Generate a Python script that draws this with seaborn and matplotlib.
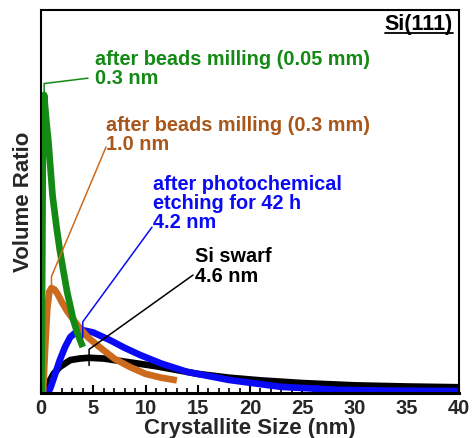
import matplotlib
matplotlib.use("Agg")
import matplotlib.pyplot as plt
import seaborn as sns
import pandas as pd

sns.set_theme(style="white")
plt.rcParams['font.family'] = ['Liberation Sans', 'DejaVu Sans']
plt.rcParams['font.weight'] = 'bold'

# ---- data ----
green_x = [0.05, 0.2, 0.3, 0.5, 0.7, 1.1, 1.5, 1.8, 2.2, 2.5, 3.1, 3.5, 4.0]
green_y = [0.0, 0.74, 0.778, 0.713, 0.66, 0.517, 0.43, 0.373, 0.31, 0.264, 0.19, 0.155, 0.12]

orange_x = [0.2, 0.4, 0.6, 0.8, 1.0, 1.3, 1.6, 2.0, 2.5, 3.0, 3.7, 4.5, 5.6, 7.0, 8.5, 10.0, 11.5, 13.0]
orange_y = [0.0, 0.12, 0.22, 0.265, 0.274, 0.27, 0.258, 0.237, 0.214, 0.195, 0.17, 0.145, 0.12, 0.09, 0.068, 0.05, 0.04, 0.033]

blue_x = [0.5, 0.86, 1.3, 1.8, 2.3, 2.8, 3.4, 4.0, 5.0, 6.6, 8.0, 9.5, 11.5, 14.0, 18.0, 23.0, 28.6, 34.0, 40.0]
blue_y = [0.0, 0.01, 0.045, 0.086, 0.12, 0.146, 0.16, 0.164, 0.158, 0.138, 0.118, 0.099, 0.077, 0.055, 0.034, 0.016, 0.008, 0.006, 0.005]

black_x = [0.4, 0.8, 1.2, 1.8, 2.8, 3.7, 4.6, 6.0, 7.5, 9.0, 11.0, 13.0, 15.0, 18.0, 21.0, 25.0, 30.0, 35.0, 40.0]
black_y = [0.0, 0.03, 0.05, 0.068, 0.086, 0.09, 0.092, 0.09, 0.084, 0.078, 0.07, 0.06, 0.05, 0.04, 0.033, 0.026, 0.02, 0.017, 0.015]

x_ticks = [0, 5, 10, 15, 20, 25, 30, 35, 40]

labels = {
    'green': ["after beads milling (0.05 mm)", "0.3 nm"],
    'orange': ["after beads milling (0.3 mm)", "1.0 nm"],
    'blue': ["after photochemical", "etching for 42 h", "4.2 nm"],
    'black': ["Si swarf", "4.6 nm"],
}

line_col = {'green': '#138a13', 'orange': '#cc6a1e', 'blue': '#0a0af5', 'black': '#000000'}
text_col = {'green': '#138a13', 'orange': '#a8561a', 'blue': '#0a0af5', 'black': '#000000'}

fig = plt.figure(figsize=(4.75, 4.38), dpi=100)
ax = fig.add_axes([41/475, 45/438, 418/475, 383/438])

series = {
    'black': (black_x, black_y),
    'blue': (blue_x, blue_y),
    'orange': (orange_x, orange_y),
    'green': (green_x, green_y),
}
for name, (xs, ys) in series.items():
    df = pd.DataFrame({'x': xs, 'y': ys})
    sns.lineplot(data=df, x='x', y='y', ax=ax, color=line_col[name], lw=4.8,
                 sort=True, estimator=None, solid_capstyle='butt')

ax.set_xlim(0, 40)
ax.set_ylim(0, 1.0)
ax.set_yticks([])
ax.set_xticks(x_ticks)
ax.set_xticklabels([str(t) for t in x_ticks], fontsize=14.5, fontweight='bold')
ax.set_xticks(range(0, 41), minor=True)
ax.tick_params(axis='x', which='major', direction='in', length=6, width=1.5, color='black', pad=4, bottom=True)
ax.tick_params(axis='x', which='minor', direction='in', length=3.5, width=1.2, color='black', bottom=True)
for s in ax.spines.values():
    s.set_color('black')
    s.set_linewidth(1.5)
ax.spines['bottom'].set_linewidth(2.2)

ax.set_xlabel("Crystallite Size (nm)", fontsize=16, fontweight='bold', labelpad=0)
ax.set_ylabel("Volume Ratio", fontsize=16, fontweight='bold', labelpad=5)

# ---- annotations ----
fs = 14.3
text_pos = {
    'green': (5.17, [0.856, 0.806]),
    'orange': (6.22, [0.684, 0.634]),
    'blue': (10.72, [0.530, 0.481, 0.431]),
    'black': (14.74, [0.342, 0.290]),
}
for name, (tx, tys) in text_pos.items():
    for line, ty in zip(labels[name], tys):
        ax.text(tx, ty, line, color=text_col[name], fontsize=fs, fontweight='bold',
                ha='left', va='baseline')

leader_start = {
    'green': (4.5, 0.822),
    'orange': (6.22, 0.642),
    'blue': (10.62, 0.433),
    'black': (14.55, 0.308),
}
for name, (xs, ys) in series.items():
    i = max(range(len(ys)), key=lambda k: ys[k])
    px, py = xs[i], ys[i]
    sx, sy = leader_start[name]
    if name in ('green', 'orange'):
        lx = [sx, px, px]
        ly = [sy, py + 0.03, py]
    else:
        lx = [sx, px, px]
        ly = [sy, py + 0.022, py - 0.02]
    ax.plot(lx, ly, color=line_col[name], lw=1.1, zorder=5)

t = ax.text(39.43, 0.948, "Si(111)", fontsize=15.5, fontweight='bold', color='black',
            ha='right', va='baseline')
fig.canvas.draw()
bb = t.get_window_extent().transformed(ax.transData.inverted())
ax.plot([bb.x0, bb.x1], [bb.y0 + 0.004, bb.y0 + 0.004], color='black', lw=1.3)

fig.savefig("out.png", dpi=100)
